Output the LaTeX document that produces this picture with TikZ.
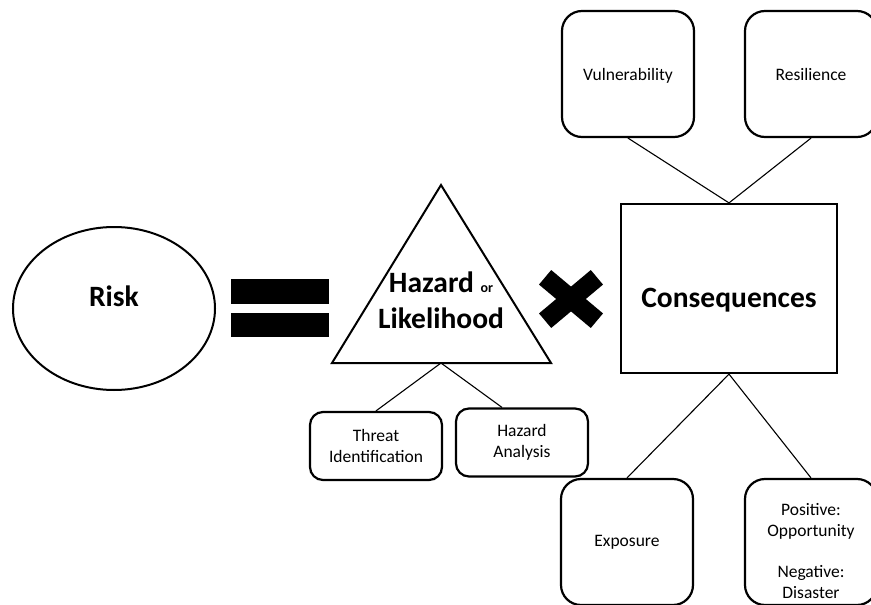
\documentclass[tikz,border=0pt]{standalone}
\usepackage{fontspec}
\setmainfont{Carlito}
\usetikzlibrary{shapes.geometric}
\tikzstyle{bigtext}=[font=\bfseries\fontsize{29.5}{36}\selectfont, inner sep=0pt]
\tikzstyle{smalltext}=[font=\fontsize{17.5}{21}\selectfont, align=center]
\tikzstyle{sqbox}=[draw, rounded corners=20pt, line width=2.2pt, minimum width=132pt, minimum height=126pt, smalltext]
\tikzstyle{lowbox}=[draw, rounded corners=13pt, line width=2.2pt, minimum width=132pt, minimum height=68pt, smalltext]
\tikzstyle{edge}=[draw=black, line width=1.1pt]

\begin{document}
\begin{tikzpicture}[x=1pt,y=-1pt]
            \useasboundingbox (0,0) rectangle (871,605);
            \clip (0,0) rectangle (871,605);

            % main shapes
            \node[draw, ellipse, line width=2pt, minimum width=202pt, minimum height=163pt] (risk) at (114,308.5) {};
            \node[draw, line width=2.2pt, minimum width=216pt, minimum height=169pt] (cons) at (729,288.5) {};
            \draw[line width=2pt, line join=miter] (332,363) -- (441,185) -- (551,363) -- cycle;
            \coordinate (hb) at (441,363);

            \node[bigtext, anchor=base] (risktext) at (114,306) {Risk};
            \node[bigtext, anchor=base] (constext) at (729,307) {Consequences};
            \node[bigtext, align=center] (haz) at (441,300) {Hazard {\fontsize{14}{14}\selectfont or}\\Likelihood};

            % equals and times
            \fill (231,279) rectangle (329,304);
            \fill (231,313) rectangle (329,337);
            \draw[line width=19pt] (545.1,277.3) -- (596.9,320.7) (545.1,320.7) -- (596.9,277.3);

            \begin{scope}[every node/.style={sqbox}]
                \node (vul) at (628,74) {\rule{0pt}{16pt}Vulnerability};
                \node (res) at (811,74) {Resilience};
                \node (exp) at (627,542) {Exposure};
                \node (pn) at (811,542) {\rule{0pt}{30pt}Positive:\\Opportunity\\[20pt]Negative:\\Disaster};
            \end{scope}

            \begin{scope}[every node/.style={lowbox}]
                \node (ti) at (376,446) {Threat\\Identification};
                \node (ha) at (522,442.5) {Hazard\\Analysis};
            \end{scope}

            \begin{scope}[every path/.style={edge}]
                \path (cons.north) -- (vul.south);
                \path (cons.north) -- (res.south);
                \path (cons.south) -- (exp.north);
                \path (cons.south) -- (pn.north);
                \path (hb) -- (ti.north);
                \path (hb) -- ([xshift=-20pt]ha.north);
            \end{scope}
        \end{tikzpicture}
\end{document}
